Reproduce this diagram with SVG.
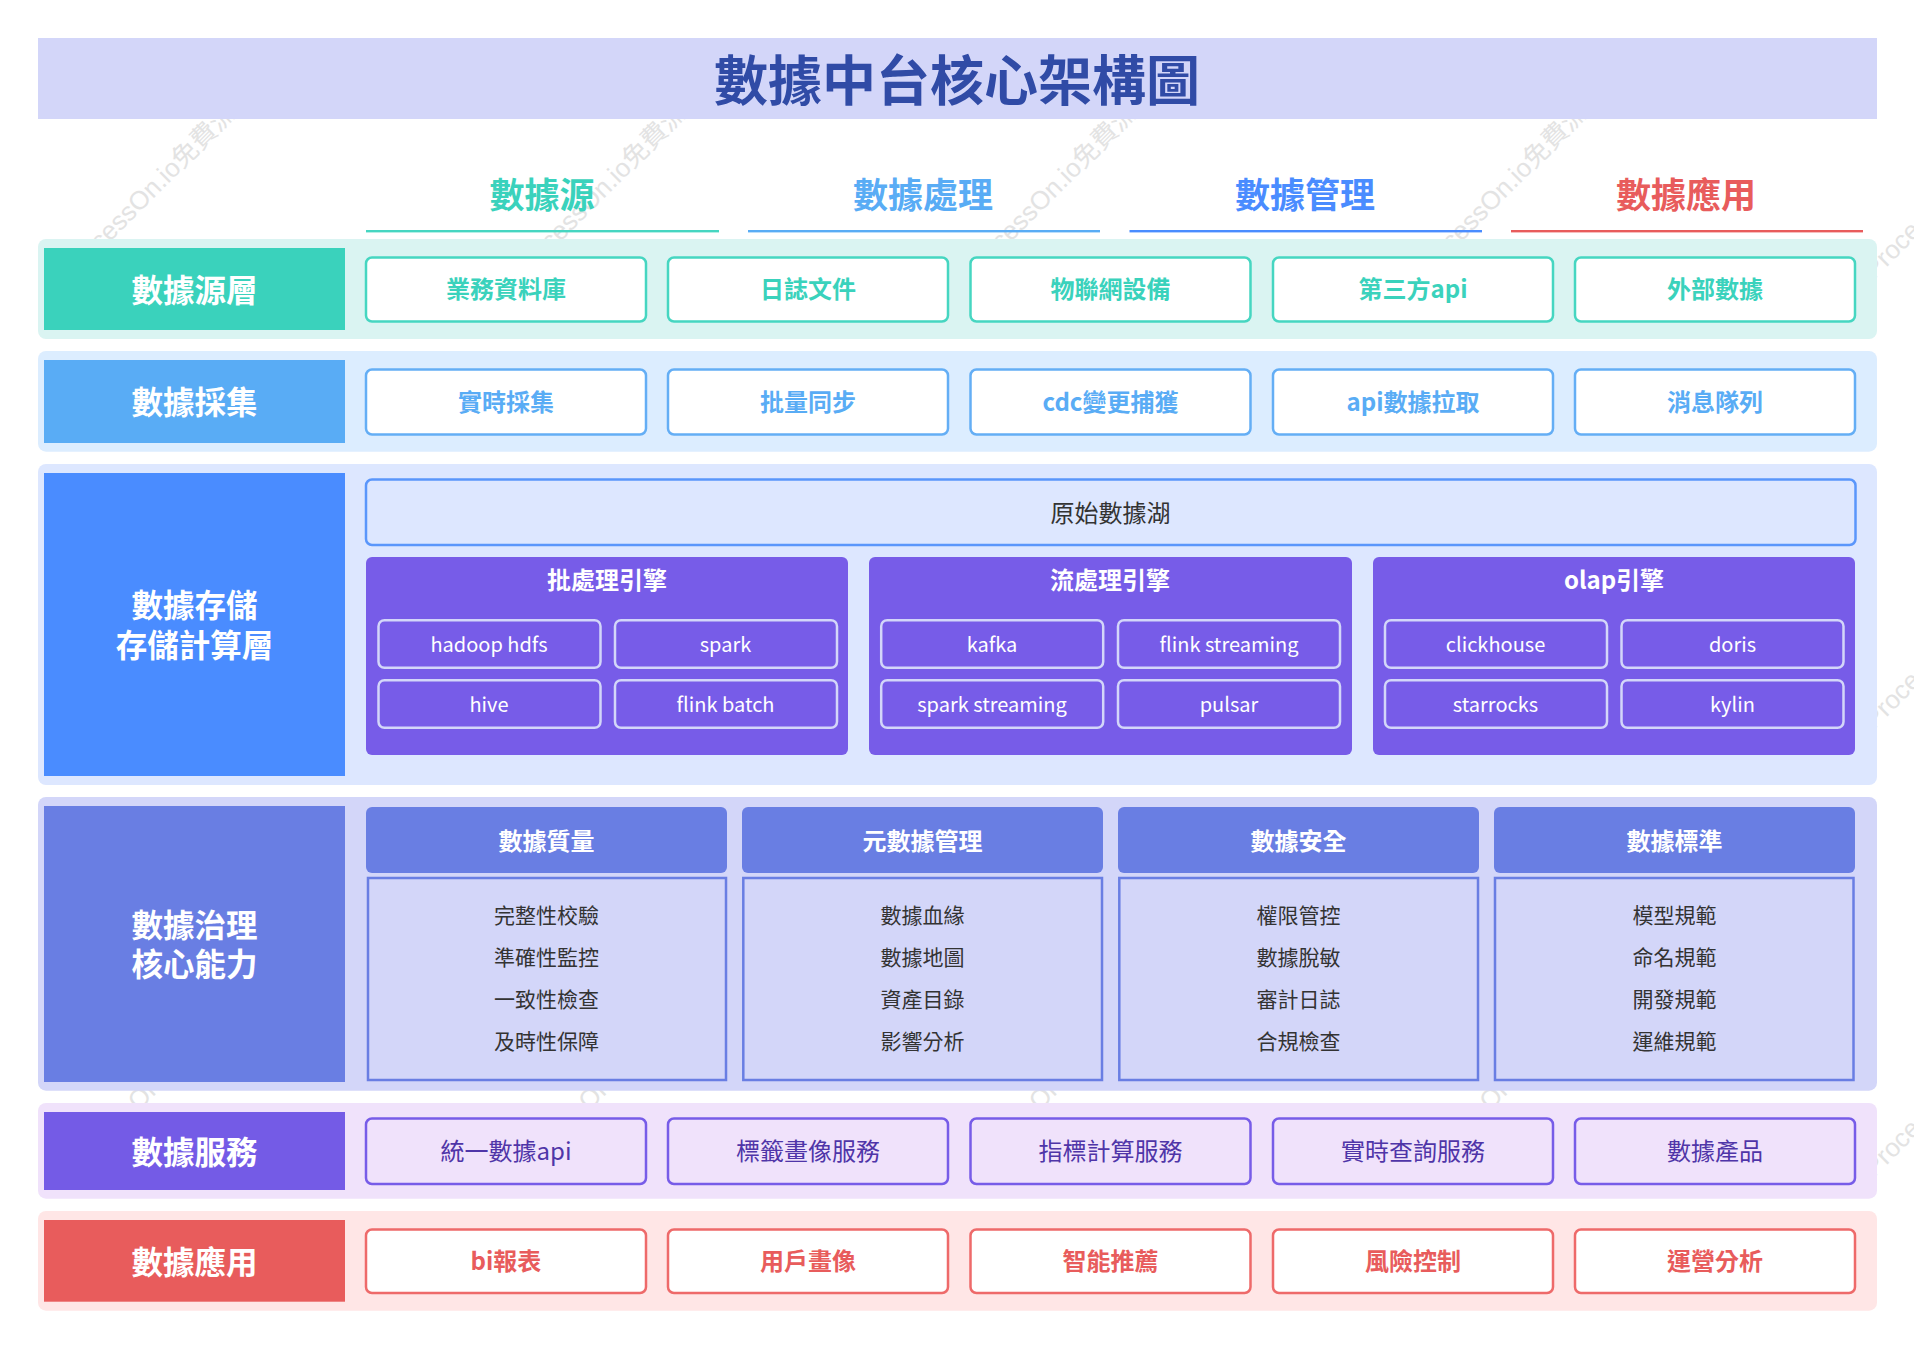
<svg xmlns="http://www.w3.org/2000/svg" width="1914" height="1348" viewBox="0 0 1914 1348">
<style>
text{font-family:"Noto Sans CJK TC","Noto Sans",sans-serif;text-anchor:middle}
.wm{fill:#e3e3e3;font-size:26px;text-anchor:start;font-family:"Liberation Sans","Noto Sans CJK TC",sans-serif}
.lab{fill:#fff;font-size:31.5px;font-weight:700}
.hd{font-size:35px;font-weight:700}
.it{font-size:24px;font-weight:700}
.item{stroke-width:2.5}
.sub{fill:none;stroke:#d3d6f9;stroke-width:2.5}
.subt{fill:#fff;font-size:20px}
.pt{fill:#fff;font-size:24px;font-weight:700}
.g{font-size:21px;fill:#333}
.gb{fill:#d3d6f9;stroke:#697ee3;stroke-width:2.5}
</style>
<rect width="1914" height="1348" fill="#fff"/>
<g id="watermarks">
<text class="wm" transform="translate(72 280) rotate(-45)">ProcessOn.io免費流程圖</text>
<text class="wm" transform="translate(522.500 280) rotate(-45)">ProcessOn.io免費流程圖</text>
<text class="wm" transform="translate(973 280) rotate(-45)">ProcessOn.io免費流程圖</text>
<text class="wm" transform="translate(1423.500 280) rotate(-45)">ProcessOn.io免費流程圖</text>
<text class="wm" transform="translate(1874 280) rotate(-45)">ProcessOn.io免費流程圖</text>
<text class="wm" transform="translate(1874 730) rotate(-45)">ProcessOn.io免費流程圖</text>
<text class="wm" transform="translate(72 1178) rotate(-45)">ProcessOn.io免費流程圖</text>
<text class="wm" transform="translate(522.500 1178) rotate(-45)">ProcessOn.io免費流程圖</text>
<text class="wm" transform="translate(973 1178) rotate(-45)">ProcessOn.io免費流程圖</text>
<text class="wm" transform="translate(1423.500 1178) rotate(-45)">ProcessOn.io免費流程圖</text>
<text class="wm" transform="translate(1874 1178) rotate(-45)">ProcessOn.io免費流程圖</text>
</g>
<g id="title">
<rect x="38" y="38" width="1839" height="81" fill="#d3d6f9"/>
<text x="957" y="101" font-size="54" font-weight="700" fill="#304ba6">數據中台核心架構圖</text>
</g>
<g id="column-headers">
<text class="hd" x="542" y="208" fill="#3ad2bc">數據源</text>
<rect x="366" y="230" width="353" height="2.4" fill="#46d6c1"/>
<text class="hd" x="923" y="208" fill="#59acf5">數據處理</text>
<rect x="748" y="230" width="352" height="2.4" fill="#59acf5"/>
<text class="hd" x="1305" y="208" fill="#4a8cff">數據管理</text>
<rect x="1129.500" y="230" width="352.500" height="2.4" fill="#4a8cff"/>
<text class="hd" x="1686" y="208" fill="#e85c5c">數據應用</text>
<rect x="1511" y="230" width="352" height="2.4" fill="#e85c5c"/>
</g>
<g id="layer-source">
<rect x="38" y="239" width="1839" height="100" rx="8" fill="#daf4f2"/>
<rect x="44" y="248" width="301" height="82" fill="#3ad2bc"/>
<text class="lab" x="194.500" y="301.500">數據源層</text>
<g fill="#fff" stroke="#46d6c1" class="item">
<rect x="366" y="257.500" width="280" height="64" rx="6"/><rect x="668" y="257.500" width="280" height="64" rx="6"/><rect x="970.500" y="257.500" width="280" height="64" rx="6"/><rect x="1273" y="257.500" width="280" height="64" rx="6"/><rect x="1575" y="257.500" width="280" height="64" rx="6"/>
</g>
<g fill="#3ad2bc" class="it">
<text x="506" y="298">業務資料庫</text><text x="808" y="298">日誌文件</text><text x="1110.500" y="298">物聯網設備</text><text x="1413" y="298">第三方api</text><text x="1715" y="298">外部數據</text>
</g>
</g>
<g id="layer-collect">
<rect x="38" y="351" width="1839" height="100.700" rx="8" fill="#dcedff"/>
<rect x="44" y="360" width="301" height="83" fill="#59acf5"/>
<text class="lab" x="194.500" y="414">數據採集</text>
<g fill="#fff" stroke="#64aef5" class="item">
<rect x="366" y="369.500" width="280" height="65" rx="6"/><rect x="668" y="369.500" width="280" height="65" rx="6"/><rect x="970.500" y="369.500" width="280" height="65" rx="6"/><rect x="1273" y="369.500" width="280" height="65" rx="6"/><rect x="1575" y="369.500" width="280" height="65" rx="6"/>
</g>
<g fill="#59acf5" class="it">
<text x="506" y="410.500">實時採集</text><text x="808" y="410.500">批量同步</text><text x="1110.500" y="410.500">cdc變更捕獲</text><text x="1413" y="410.500">api數據拉取</text><text x="1715" y="410.500">消息隊列</text>
</g>
</g>
<g id="layer-storage">
<rect x="38" y="464" width="1839" height="321" rx="8" fill="#dde7ff"/>
<rect x="44" y="473" width="301" height="303" fill="#4a8cff"/>
<text class="lab" x="194.500" y="616.500">數據存儲</text>
<text class="lab" x="194.500" y="656.500">存儲計算層</text>
<g id="data-lake">
<rect x="366" y="479.500" width="1489.500" height="65.500" rx="6" fill="#dde7ff" stroke="#5a96fb" stroke-width="2.5"/>
<text x="1110.500" y="522" font-size="24" fill="#333">原始數據湖</text>
</g>
<g id="batch-engine">
<rect x="366" y="557" width="482" height="198" rx="6" fill="#775ce8"/>
<text class="pt" x="607" y="589">批處理引擎</text>
<rect class="sub" x="378.500" y="620.200" width="222" height="47.600" rx="6"/><rect class="sub" x="615" y="620.200" width="222" height="47.600" rx="6"/><rect class="sub" x="378.500" y="680.200" width="222" height="47.600" rx="6"/><rect class="sub" x="615" y="680.200" width="222" height="47.600" rx="6"/>
<text class="subt" x="489" y="651.500">hadoop hdfs</text><text class="subt" x="725.500" y="651.500">spark</text><text class="subt" x="489" y="711.500">hive</text><text class="subt" x="725.500" y="711.500">flink batch</text>
</g>
<g id="stream-engine">
<rect x="869" y="557" width="483" height="198" rx="6" fill="#775ce8"/>
<text class="pt" x="1110" y="589">流處理引擎</text>
<rect class="sub" x="881.200" y="620.200" width="222" height="47.600" rx="6"/><rect class="sub" x="1118" y="620.200" width="222" height="47.600" rx="6"/><rect class="sub" x="881.200" y="680.200" width="222" height="47.600" rx="6"/><rect class="sub" x="1118" y="680.200" width="222" height="47.600" rx="6"/>
<text class="subt" x="992" y="651.500">kafka</text><text class="subt" x="1229" y="651.500">flink streaming</text><text class="subt" x="992" y="711.500">spark streaming</text><text class="subt" x="1229" y="711.500">pulsar</text>
</g>
<g id="olap-engine">
<rect x="1373" y="557" width="482" height="198" rx="6" fill="#775ce8"/>
<text class="pt" x="1614" y="589">olap引擎</text>
<rect class="sub" x="1385" y="620.200" width="222" height="47.600" rx="6"/><rect class="sub" x="1621.500" y="620.200" width="222" height="47.600" rx="6"/><rect class="sub" x="1385" y="680.200" width="222" height="47.600" rx="6"/><rect class="sub" x="1621.500" y="680.200" width="222" height="47.600" rx="6"/>
<text class="subt" x="1495.500" y="651.500">clickhouse</text><text class="subt" x="1732.500" y="651.500">doris</text><text class="subt" x="1495.500" y="711.500">starrocks</text><text class="subt" x="1732.500" y="711.500">kylin</text>
</g>
</g>
<g id="layer-governance">
<rect x="38" y="797" width="1839" height="293.700" rx="8" fill="#d3d6f9"/>
<rect x="44" y="806" width="301" height="276" fill="#697ee3"/>
<text class="lab" x="194.500" y="936.500">數據治理</text>
<text class="lab" x="194.500" y="975.500">核心能力</text>
<g id="gov-quality">
<rect x="366" y="807" width="361" height="66" rx="6" fill="#697ee3"/><text class="pt" x="546.500" y="849.500">數據質量</text>
<rect class="gb" x="368" y="878" width="358" height="202"/>
<text class="g" x="546.500" y="923">完整性校驗</text><text class="g" x="546.500" y="965">準確性監控</text><text class="g" x="546.500" y="1007">一致性檢查</text><text class="g" x="546.500" y="1049">及時性保障</text>
</g>
<g id="gov-metadata">
<rect x="742" y="807" width="361" height="66" rx="6" fill="#697ee3"/><text class="pt" x="922.500" y="849.500">元數據管理</text>
<rect class="gb" x="743.300" y="878" width="358.700" height="202"/>
<text class="g" x="922.500" y="923">數據血緣</text><text class="g" x="922.500" y="965">數據地圖</text><text class="g" x="922.500" y="1007">資產目錄</text><text class="g" x="922.500" y="1049">影響分析</text>
</g>
<g id="gov-security">
<rect x="1118" y="807" width="361" height="66" rx="6" fill="#697ee3"/><text class="pt" x="1298.500" y="849.500">數據安全</text>
<rect class="gb" x="1119.300" y="878" width="358.700" height="202"/>
<text class="g" x="1298.500" y="923">權限管控</text><text class="g" x="1298.500" y="965">數據脫敏</text><text class="g" x="1298.500" y="1007">審計日誌</text><text class="g" x="1298.500" y="1049">合規檢查</text>
</g>
<g id="gov-standard">
<rect x="1494" y="807" width="361" height="66" rx="6" fill="#697ee3"/><text class="pt" x="1674.500" y="849.500">數據標準</text>
<rect class="gb" x="1495" y="878" width="358.500" height="202"/>
<text class="g" x="1674.500" y="923">模型規範</text><text class="g" x="1674.500" y="965">命名規範</text><text class="g" x="1674.500" y="1007">開發規範</text><text class="g" x="1674.500" y="1049">運維規範</text>
</g>
</g>
<g id="layer-service">
<rect x="38" y="1103" width="1839" height="95.700" rx="8" fill="#f0e2fb"/>
<rect x="44" y="1112" width="301" height="78" fill="#745be6"/>
<text class="lab" x="194.500" y="1163.500">數據服務</text>
<g fill="#f0e2fb" stroke="#775ce8" class="item">
<rect x="366" y="1118.500" width="280" height="65.500" rx="6"/><rect x="668" y="1118.500" width="280" height="65.500" rx="6"/><rect x="970.500" y="1118.500" width="280" height="65.500" rx="6"/><rect x="1273" y="1118.500" width="280" height="65.500" rx="6"/><rect x="1575" y="1118.500" width="280" height="65.500" rx="6"/>
</g>
<g fill="#4f35a8" font-size="24">
<text x="506" y="1160">統一數據api</text><text x="808" y="1160">標籤畫像服務</text><text x="1110.500" y="1160">指標計算服務</text><text x="1413" y="1160">實時查詢服務</text><text x="1715" y="1160">數據產品</text>
</g>
</g>
<g id="layer-application">
<rect x="38" y="1211" width="1839" height="99.700" rx="8" fill="#ffe6e6"/>
<rect x="44" y="1220" width="301" height="81.700" fill="#e85c5c"/>
<text class="lab" x="194.500" y="1273.500">數據應用</text>
<g fill="#fff" stroke="#ee6a6a" class="item">
<rect x="366" y="1229.500" width="280" height="63.500" rx="6"/><rect x="668" y="1229.500" width="280" height="63.500" rx="6"/><rect x="970.500" y="1229.500" width="280" height="63.500" rx="6"/><rect x="1273" y="1229.500" width="280" height="63.500" rx="6"/><rect x="1575" y="1229.500" width="280" height="63.500" rx="6"/>
</g>
<g fill="#e85c5c" class="it">
<text x="506" y="1270">bi報表</text><text x="808" y="1270">用戶畫像</text><text x="1110.500" y="1270">智能推薦</text><text x="1413" y="1270">風險控制</text><text x="1715" y="1270">運營分析</text>
</g>
</g>
</svg>
